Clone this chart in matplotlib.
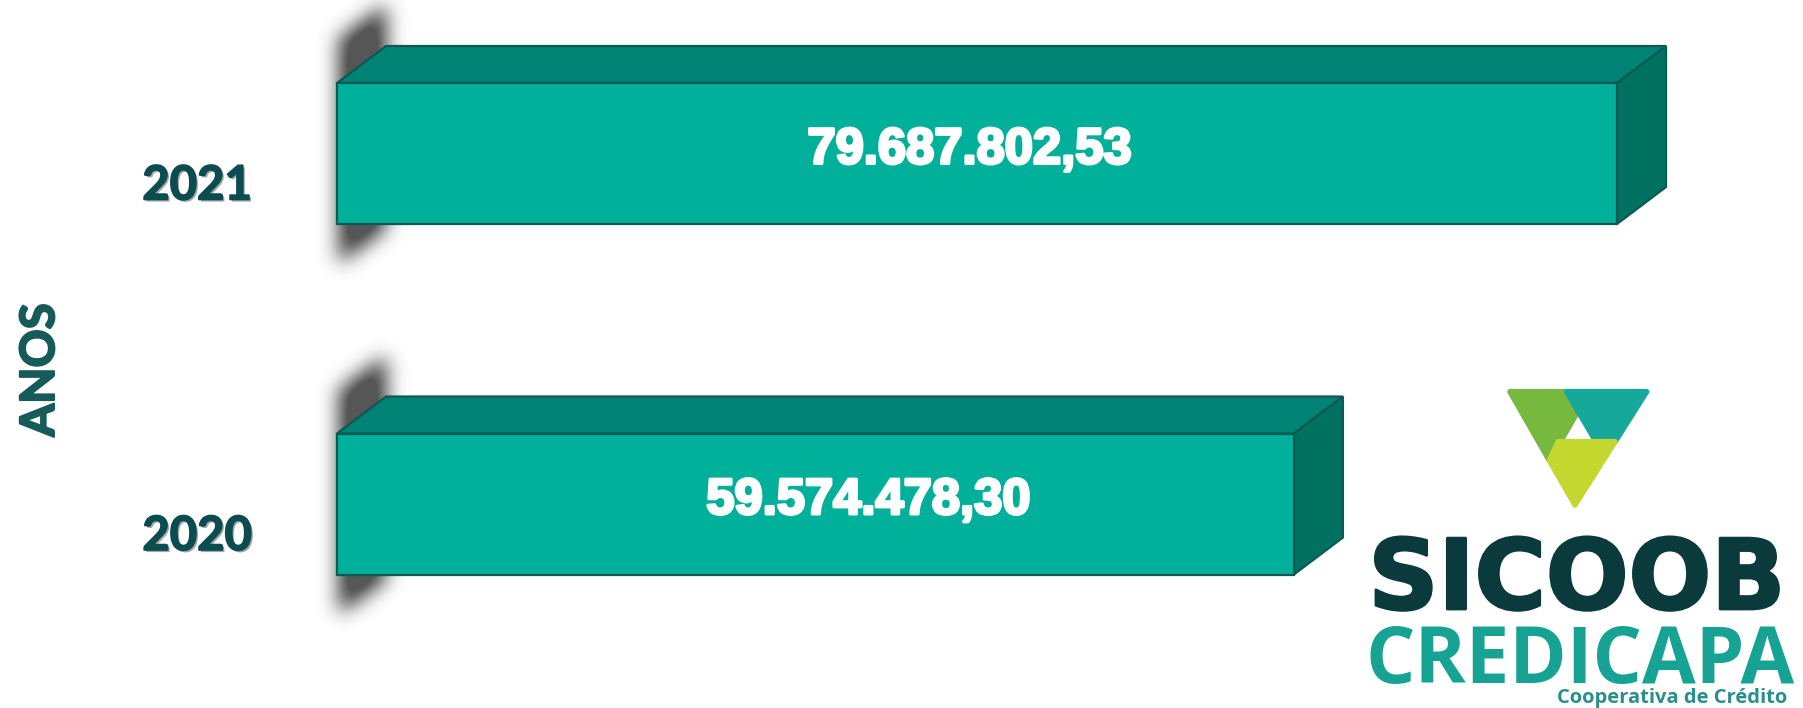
import numpy as np
import matplotlib
matplotlib.use("Agg")
import matplotlib.pyplot as plt
from matplotlib.patches import Polygon
import matplotlib.patheffects as pe

# dados
anos = ["2020", "2021"]
valores = [59574478.30, 79687802.53]
eixo_titulo = "ANOS"

# geometria (pixels da figura)
W, H = 1803, 708
X0 = 337            # pixel do zero do eixo x
PX_M = 16.063       # pixels por milhao
Y_2021, Y_2020 = 153.5, 504.0
PX_CAT = Y_2020 - Y_2021

FRENTE = "#00b09b"
TOPO = "#008374"
LADO = "#00725f"
BORDA = "#0d5955"
TXT_ESCURO = "#0b4c50"


def fmt_br(v):
    s = f"{v:,.2f}"
    return s.replace(",", "#").replace(".", ",").replace("#", ".")


def gauss_blur(img, sigma):
    r = int(3 * sigma)
    k = np.exp(-0.5 * (np.arange(-r, r + 1) / sigma) ** 2)
    k /= k.sum()
    out = np.apply_along_axis(lambda m: np.convolve(m, k, mode="same"), 0, img)
    out = np.apply_along_axis(lambda m: np.convolve(m, k, mode="same"), 1, out)
    return out


fig = plt.figure(figsize=(W / 100, H / 100), dpi=100)
fig.patch.set_facecolor("white")

ax = fig.add_axes([0, 0, 1, 1])
ax.set_xlim(-X0 / PX_M, (W - X0) / PX_M)
ax.set_ylim(-(H - Y_2020) / PX_CAT, 1 + Y_2021 / PX_CAT)
ax.axis("off")

h = 70.5 / PX_CAT          # meia altura da face frontal
dx = 49 / PX_M             # profundidade em x
dy = 37 / PX_CAT           # profundidade em y
ext = 42 / PX_CAT          # extensao da sombra

for i, (ano, v) in enumerate(zip(anos, valores)):
    m = v / 1e6
    # sombra desfocada atras da face esquerda
    gx = np.linspace(-5, 9, 225)
    gy = np.linspace(i - h - ext - 0.3, i + h + dy + ext + 0.3, 500)
    XX, YY = np.meshgrid(gx, gy)
    base = dy * XX / dx
    mask = ((XX >= 0.1) & (XX <= dx) &
            (YY >= i - h - ext + base) & (YY <= i + h + ext + base)).astype(float)
    mask = gauss_blur(mask, 10.0)
    rgba = np.zeros(mask.shape + (4,))
    rgba[..., :3] = 0.22
    rgba[..., 3] = np.clip(mask * 1.05, 0, 0.85)
    ax.imshow(rgba, extent=(gx[0], gx[-1], gy[0], gy[-1]), origin="lower",
              aspect="auto", zorder=1, interpolation="bilinear")

    frente = [(0, i - h), (m, i - h), (m, i + h), (0, i + h)]
    topo = [(0, i + h), (m, i + h), (m + dx, i + h + dy), (dx, i + h + dy)]
    lado = [(m, i - h), (m + dx, i - h + dy), (m + dx, i + h + dy), (m, i + h)]
    for pts, cor in ((topo, TOPO), (lado, LADO), (frente, FRENTE)):
        ax.add_patch(Polygon(pts, closed=True, facecolor=cor, edgecolor=BORDA,
                             linewidth=1.6, joinstyle="miter", zorder=2))

    ax.text(m * 0.5 + (-0.45 if i == 1 else 3.3), i - 10 / PX_CAT, fmt_br(v),
            ha="center", va="baseline", color="white", fontsize=36.5,
            fontweight="bold", family="Liberation Sans", zorder=3,
            path_effects=[pe.withStroke(linewidth=2.2, foreground="white")])

    ax.text(-140 / PX_M, i - 46 / PX_CAT, ano, ha="center", va="baseline",
            color=TXT_ESCURO, fontsize=34, fontweight="bold", family="Lato",
            zorder=3,
            path_effects=[pe.withSimplePatchShadow(offset=(1.5, -1.5),
                                                   shadow_rgbFace="black", alpha=0.35),
                          pe.withStroke(linewidth=1.2, foreground=TXT_ESCURO)])

# camada em pixels para titulo e logo
lx = fig.add_axes([0, 0, 1, 1])
lx.set_xlim(0, W)
lx.set_ylim(H, 0)
lx.axis("off")

lx.text(40, 370, eixo_titulo, rotation=90, ha="center", va="center",
        color="#175a5a", fontsize=34, fontweight="bold", family="Lato",
        path_effects=[pe.withStroke(linewidth=1.5, foreground="#175a5a")])

# logo (coordenadas do recorte x3)
def lp(pts):
    return [(1490 + x / 3, 380 + y / 3) for x, y in pts]

verde = lp([(60, 35), (230, 35), (265, 92), (178, 241)])
azul = lp([(230, 35), (470, 35), (375, 185), (318, 185)])
lima = lp([(205, 185), (375, 185), (255, 375), (178, 241)])
for pts, cor in ((verde, "#77b83f"), (azul, "#16a99b"), (lima, "#c3d72f")):
    lx.add_patch(Polygon(pts, closed=True, facecolor=cor, edgecolor=cor,
                         linewidth=4, joinstyle="round"))

lx.text(1577, 609, "SICOOB", ha="center", va="baseline", color="#0b3a3d",
        fontsize=70, fontweight="bold", family="DejaVu Sans",
        path_effects=[pe.withStroke(linewidth=2, foreground="#0b3a3d")])
lx.text(1580, 683, "CREDICAPA", ha="center", va="baseline", color="#17a394",
        fontsize=56, fontweight="bold", family="Open Sans")
lx.text(1787, 703, "Cooperativa de Crédito", ha="right", va="baseline",
        color="#2a8f8a", fontsize=14.5, fontweight="bold", family="Open Sans")

fig.savefig("out.png", dpi=100, facecolor="white")
